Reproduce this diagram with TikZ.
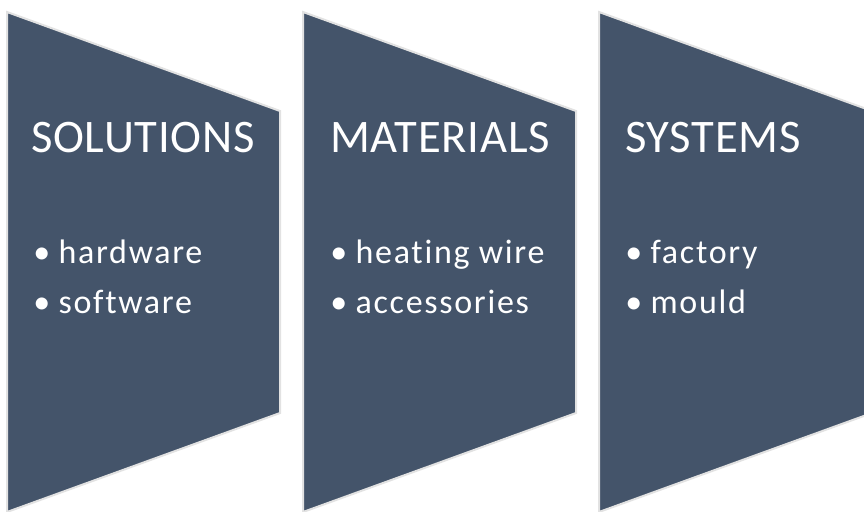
\documentclass[tikz,border=0pt]{standalone}
\usepackage{fontspec}
\setmainfont{Carlito}
\newfontfamily\headfont[LetterSpace=1.5,Ligatures=NoCommon]{Carlito}
\newfontfamily\itemfont[LetterSpace=5,Ligatures=NoCommon]{Carlito}
\definecolor{slate}{HTML}{44546A}
\definecolor{shade}{HTML}{E2E2E2}
\tikzset{
  panel/.style={fill=slate, draw=shade, line width=1.5pt, line join=miter},
  head/.style={anchor=base west, inner sep=0pt, text=white, font=\headfont\fontsize{35}{35}\selectfont},
  item/.style={anchor=base west, inner sep=0pt, text=white, font=\itemfont\fontsize{25.5}{25.5}\selectfont},
}
\newcommand{\bul}{\makebox[19pt][l]{\textbullet}}
\begin{document}
\begin{tikzpicture}[x=0.75pt,y=-0.75pt]
    \useasboundingbox (0,0) rectangle (864,511);
    \clip (0,0) rectangle (864,511);
    \fill[white] (0,0) rectangle (864,511);

    % panels
    \foreach \x in {0,296,592} {
            \draw[panel] (7+\x,12) -- (280+\x,111) -- (280+\x,413) -- (7+\x,512) -- cycle;
        }

    \coordinate (S) at (31,152);
    \coordinate (M) at (330,152);
    \coordinate (Y) at (625,152);

    \begin{scope}[every node/.style=head]
        \node (sol) at (S) {SOLUTIONS};
        \node (mat) at (M) {MATERIALS};
        \node (sys) at (Y) {SYSTEMS};
    \end{scope}
    \begin{scope}[every node/.style=item]
        \node (sol1) at (33,263) {\bul hardware};
        \node (sol2) at (33,313) {\bul software};
        \node (mat1) at (330,263) {\bul heating wire};
        \node (mat2) at (330,313) {\bul accessories};
        \node (sys1) at (625,263) {\bul factory};
        \node (sys2) at (625,313) {\bul mould};
    \end{scope}
\end{tikzpicture}
\end{document}
